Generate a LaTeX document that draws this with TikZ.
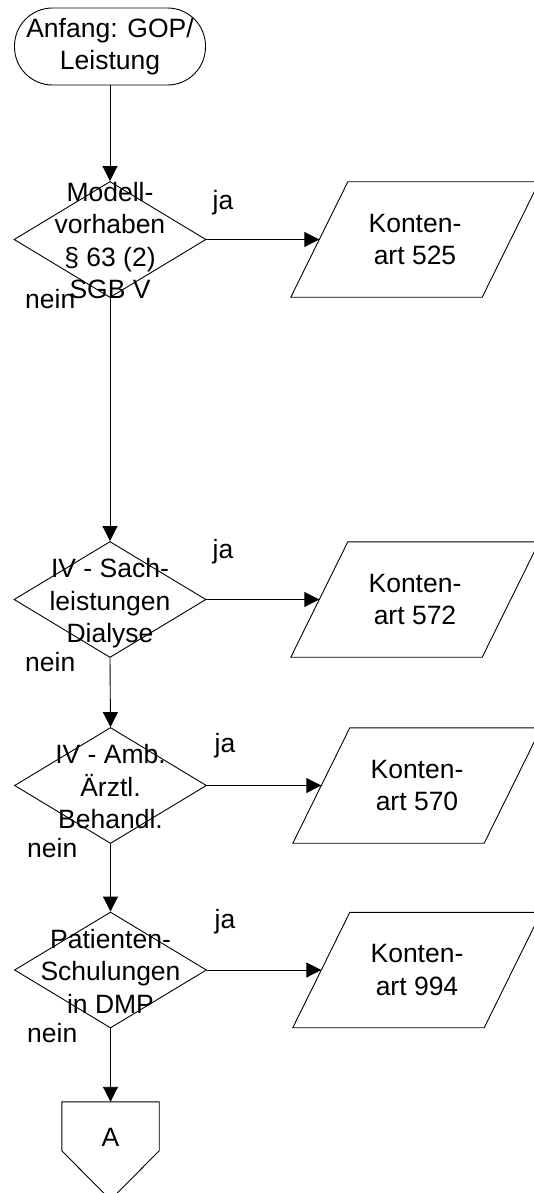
\documentclass[tikz,border=0pt]{standalone}
\usepackage{fontspec}
\setmainfont{Liberation Sans}
\usetikzlibrary{arrows.meta,shapes.geometric}
\newcommand\ctext[1]{\vbox to 0pt{\vss\kern8pt\hbox to 0pt{\hss\begin{tabular}{@{}c@{}}#1\end{tabular}\hss}\vss}}
\newcommand\paraoutline[1]{\draw[line] ([xshift=-28.5pt]#1.south west) -- ([xshift=-28.5pt]#1.south east) -- ([xshift=28.5pt]#1.north east) -- ([xshift=28.5pt]#1.north west) -- cycle;}
\begin{document}
\begin{tikzpicture}[x=1pt,y=-1pt,
  every node/.style={font=\fontsize{26.5}{32.5}\selectfont},
  line/.style={draw=black, line width=0.9pt},
  flow/.style={line, -{Triangle[width=15pt,length=15pt]}},
  terminal/.style={line, rectangle, rounded corners=38pt, minimum width=191pt, minimum height=77pt, align=center, inner sep=0pt},
  decision/.style={line, diamond, minimum width=192pt, minimum height=116pt, inner sep=0pt},
  iobox/.style={rectangle, minimum width=191pt, minimum height=115pt, align=center, inner sep=0pt},
  lbl/.style={inner sep=0pt}]
\useasboundingbox (0,0) rectangle (533,1193);
\node[terminal] (start) at (110,46.5) {Anfang: GOP/\\Leistung};
\node[decision] (d1) at (110,239.5) {\ctext{Modell-\\vorhaben\\§ 63 (2)\\SGB V}};
\node[iobox] (p1) at (415,239.5) {Konten-\\art 525};
\node[decision] (d2) at (110,599.5) {\ctext{IV - Sach-\\leistungen\\Dialyse}};
\node[iobox] (p2) at (415,599.5) {Konten-\\art 572};
\node[decision] (d3) at (110.5,785.5) {\ctext{IV - Amb.\\Ärztl.\\Behandl.}};
\node[iobox] (p3) at (417,785.5) {Konten-\\art 570};
\node[decision] (d4) at (110.5,970) {\ctext{Patienten-\\Schulungen\\in DMP}};
\node[iobox] (p4) at (417,970) {Konten-\\art 994};
\paraoutline{p1}
\paraoutline{p2}
\paraoutline{p3}
\paraoutline{p4}
\node[minimum width=97pt, minimum height=70pt, inner sep=0pt] (a) at (110.5,1137) {A};
\draw[line] (a.north west) -- (a.north east) -- ([yshift=-49pt]a.north east) -- ([yshift=-98pt]a.north) -- ([yshift=-49pt]a.north west) -- cycle;
\node[lbl, anchor=base] (ja1) at (223,209) {ja};
\node[lbl, anchor=base] (ja2) at (223,558) {ja};
\node[lbl, anchor=base] (ja3) at (225,752) {ja};
\node[lbl, anchor=base] (ja4) at (225,928) {ja};
\node[lbl, anchor=base west] (nein1) at (25,308) {nein};
\node[lbl, anchor=base west] (nein2) at (25,671) {nein};
\node[lbl, anchor=base west] (nein3) at (27,857) {nein};
\node[lbl, anchor=base west] (nein4) at (27,1042) {nein};
\draw[flow] (start.south) -- (d1.north);
\draw[flow] (d1.south) -- (d2.north);
\draw[flow] (d2.south) -- (d3.north);
\draw[flow] (d3.south) -- (d4.north);
\draw[flow] (d4.south) -- (a.north);
\draw[flow] (d1.east) -- (p1.west);
\draw[flow] (d2.east) -- (p2.west);
\draw[flow] (d3.east) -- (p3.west);
\draw[flow] (d4.east) -- (p4.west);
\end{tikzpicture}
\end{document}
